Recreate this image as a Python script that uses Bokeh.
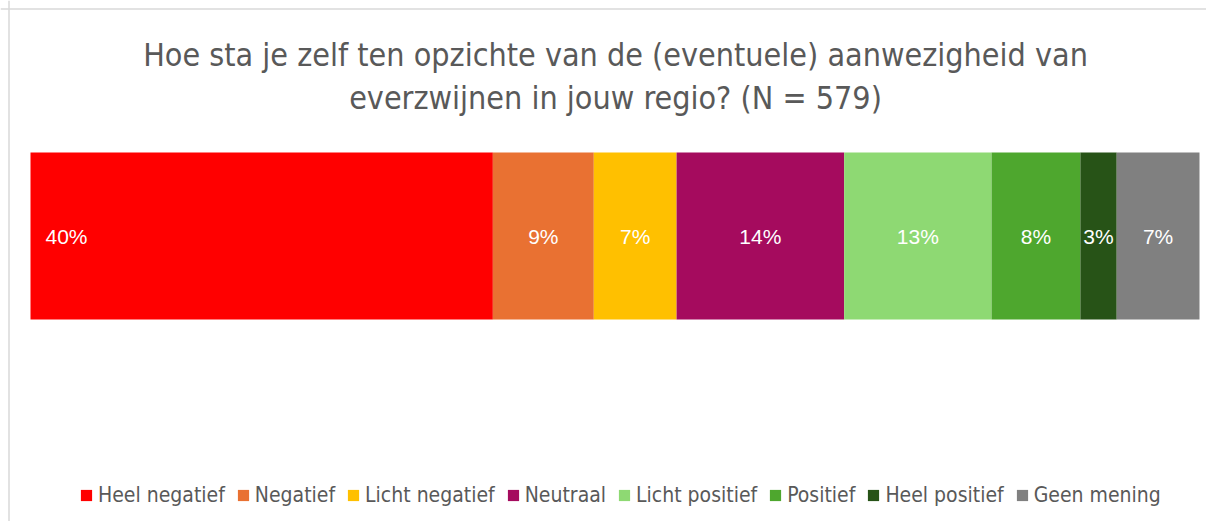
from bokeh.plotting import figure
from bokeh.models import Range1d, Label, Span, Legend, LegendItem
from bokeh.embed import file_html
from bokeh.resources import INLINE

categories = ["Heel negatief", "Negatief", "Licht negatief", "Neutraal",
              "Licht positief", "Positief", "Heel positief", "Geen mening"]
counts = [229, 50, 41, 83, 73, 44, 18, 41]
colors = ["#FF0000", "#E97132", "#FFC000", "#A50B5E",
          "#8ED973", "#4EA72E", "#275317", "#808080"]
title_lines = ["Hoe sta je zelf ten opzichte van de (eventuele) aanwezigheid van",
               "everzwijnen in jouw regio? (N = 579)"]

total = sum(counts)
pct = [c / total * 100 for c in counts]
lefts, rights = [], []
acc = 0.0
for v in pct:
    lefts.append(acc)
    acc += v
    rights.append(acc)
labels = [f"{round(v):.0f}%" for v in pct]

W, H = 1206, 521
bar_l, bar_r = 30, 1199          # frame pixels of 0% and 100%
scale = (bar_r - bar_l) / 100.0
bar_top, bar_h = 152, 167        # from top of frame
yc = bar_top + bar_h / 2

p = figure(width=W, height=H, output_backend="svg", toolbar_location=None,
           x_range=Range1d(-bar_l / scale, 100 + (W - bar_r) / scale),
           y_range=Range1d(-(H - yc) / bar_h, yc / bar_h),
           min_border=0)
p.axis.visible = False
p.grid.visible = False
p.outline_line_color = None
p.background_fill_color = "white"
p.border_fill_color = "white"

items = []
for i, cat in enumerate(categories):
    r = p.hbar(y=[0], left=[lefts[i]], right=[rights[i]], height=1.0,
               fill_color=colors[i], line_color=None)
    items.append(LegendItem(label=cat, renderers=[r]))

for i, lab in enumerate(labels):
    if i == 0:
        p.add_layout(Label(x=lefts[i], y=0, text=lab, x_offset=15,
                           text_align="left", text_baseline="middle",
                           text_color="white", text_font_size="21px",
                           text_font="Liberation Sans"))
    else:
        p.add_layout(Label(x=(lefts[i] + rights[i]) / 2, y=0, text=lab,
                           text_align="center", text_baseline="middle",
                           text_color="white", text_font_size="21px",
                           text_font="Liberation Sans"))

for line, ypx in zip(title_lines, [H - 54, H - 97]):
    p.add_layout(Label(x=W / 2 + 12, y=ypx, x_units="screen", y_units="screen",
                       text=line, text_align="center", text_baseline="middle",
                       text_color="#595959", text_font_size="32px",
                       text_font="DejaVu Sans Condensed"))

legend = Legend(items=items, orientation="horizontal", location=(79, 14),
                glyph_width=14, glyph_height=14, label_standoff=5, spacing=11,
                padding=0, margin=0, label_text_font_size="21px",
                label_text_color="#595959", label_text_font="DejaVu Sans Condensed",
                background_fill_alpha=0, border_line_color=None)
p.add_layout(legend)

p.add_layout(Span(location=p.x_range.start + 8.5 / scale, dimension="height",
                  line_color="#d9d9d9", line_width=1.5))
p.add_layout(Span(location=p.y_range.end - 8.5 / bar_h, dimension="width",
                  line_color="#d9d9d9", line_width=1.5))

open("out.html", "w").write(file_html(p, INLINE))
